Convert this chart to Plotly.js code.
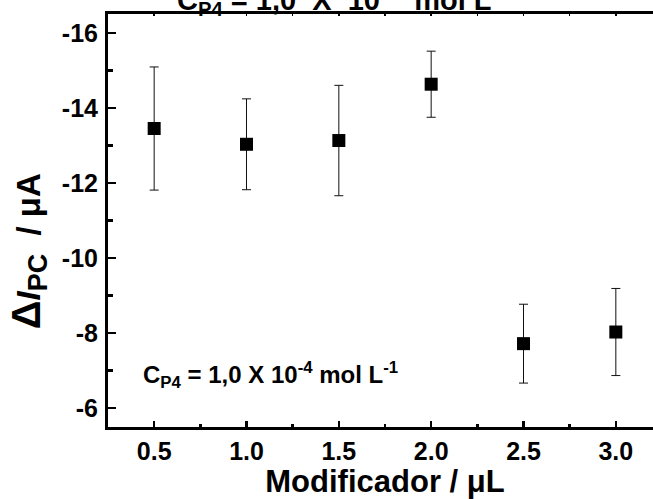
<!DOCTYPE html>
<html>
<head>
<meta charset="utf-8">
<script src="https://cdn.plot.ly/plotly-3.0.1.min.js"></script>
<style>
html, body { margin: 0; padding: 0; overflow: hidden; width: 653px; height: 499px; background: #fff; }
#chart { width: 670px; height: 499px; }
</style>
</head>
<body>
<div id="chart"></div>
<script>
// Data
const modificador = [0.5, 1.0, 1.5, 2.0, 2.5, 3.0];           // µL
const deltaIpc    = [-13.45, -13.03, -13.13, -14.63, -7.72, -8.03]; // µA
const errorIpc    = [1.64, 1.21, 1.47, 0.88, 1.05, 1.16];           // µA
const xTickVals   = [0.5, 1.0, 1.5, 2.0, 2.5, 3.0];
const xTickText   = ['0.5', '1.0', '1.5', '2.0', '2.5', '3.0'];
const yTickVals   = [-16, -14, -12, -10, -8, -6];
const yTickText   = ['-16', '-14', '-12', '-10', '-8', '-6'];
const xTitle      = 'Modificador / μL';
const yTitle      = '<span style="font-size:40px">Δ</span><i>I</i><sub><span style="font-size:27px">PC</span></sub>&nbsp;&nbsp;/&nbsp;μA';
const noteText    = 'C<sub>P4</sub> = 1,0 X 10<sup>-4</sup> mol L<sup>-1</sup>';
const topText     = 'C<sub>P4</sub> = 1,0&nbsp;&nbsp;X&nbsp;&nbsp;10<sup>-4</sup>&nbsp;&nbsp;mol L<sup>-1</sup>';

const FONT = 'Liberation Sans, Arial, sans-serif';

const traces = [
  {
    x: modificador,
    y: deltaIpc,
    type: 'scatter',
    mode: 'markers',
    marker: { symbol: 'square', size: 13, color: '#000' },
    error_y: { type: 'data', array: errorIpc, visible: true, color: '#111', thickness: 1, width: 4.5 },
    showlegend: false,
    hoverinfo: 'skip'
  },
  {
    x: modificador,
    y: deltaIpc,
    xaxis: 'x2',
    yaxis: 'y',
    type: 'scatter',
    mode: 'markers',
    marker: { opacity: 0 },
    showlegend: false,
    hoverinfo: 'skip'
  }
];

const layout = {
  width: 670,
  height: 499,
  margin: { l: 108, r: 8, t: 14, b: 72 },
  paper_bgcolor: '#fff',
  plot_bgcolor: '#fff',
  font: { family: FONT, color: '#000', size: 22, weight: 'bold' },
  xaxis: {
    range: [0.25, 3.25],
    tickvals: xTickVals,
    ticktext: xTickText,
    ticks: 'inside',
    ticklen: 6,
    tickwidth: 2.5,
    tickcolor: '#000',
    minor: { dtick: 0.25, tick0: 0, ticks: 'inside', ticklen: 3.5, tickwidth: 2.5, tickcolor: '#000' },
    showline: true,
    linewidth: 3,
    linecolor: '#000',
    showgrid: false,
    zeroline: false,
    tickfont: { family: FONT, size: 25, weight: 'bold', color: '#000' },
    title: { text: xTitle, font: { family: FONT, size: 31, weight: 'bold', color: '#000' }, standoff: 14 }
  },
  xaxis2: {
    matches: 'x',
    overlaying: 'x',
    side: 'top',
    anchor: 'y',
    ticks: 'inside',
    ticklen: 2,
    tickwidth: 1.5,
    tickcolor: '#000',
    tickvals: xTickVals,
    minor: { dtick: 0.25, tick0: 0, ticks: 'inside', ticklen: 2, tickwidth: 1.5, tickcolor: '#000' },
    showticklabels: false,
    showline: true,
    linewidth: 3,
    linecolor: '#000',
    showgrid: false,
    zeroline: false
  },
  yaxis: {
    range: [-5.5, -16.5],
    tickvals: yTickVals,
    ticktext: yTickText,
    ticks: 'inside',
    ticklen: 8,
    tickwidth: 2.5,
    tickcolor: '#000',
    minor: { dtick: 1, tick0: 0, ticks: 'inside', ticklen: 5, tickwidth: 2.5, tickcolor: '#000' },
    showline: true,
    linewidth: 3,
    linecolor: '#000',
    showgrid: false,
    zeroline: false,
    ticklabelstandoff: 2,
    tickfont: { family: FONT, size: 25, weight: 'bold', color: '#000' }
  },
  annotations: [
    {
      text: yTitle,
      xref: 'paper', yref: 'paper',
      x: -0.143, y: 0.425,
      xanchor: 'center', yanchor: 'middle',
      textangle: -90,
      showarrow: false,
      font: { family: FONT, size: 33, weight: 'bold', color: '#000' }
    },
    {
      text: noteText,
      xref: 'paper', yref: 'paper',
      x: 0.06, y: 0.125,
      xanchor: 'left', yanchor: 'middle',
      showarrow: false,
      font: { family: FONT, size: 24, weight: 'bold', color: '#000' }
    },
    {
      text: topText,
      xref: 'paper', yref: 'paper',
      x: 0.425, y: 1,
      xanchor: 'center', yanchor: 'middle',
      yshift: 14,
      showarrow: false,
      font: { family: FONT, size: 29, weight: 'bold', color: '#000' }
    }
  ]
};

Plotly.newPlot('chart', traces, layout, { displayModeBar: false, staticPlot: true });
</script>
</body>
</html>
